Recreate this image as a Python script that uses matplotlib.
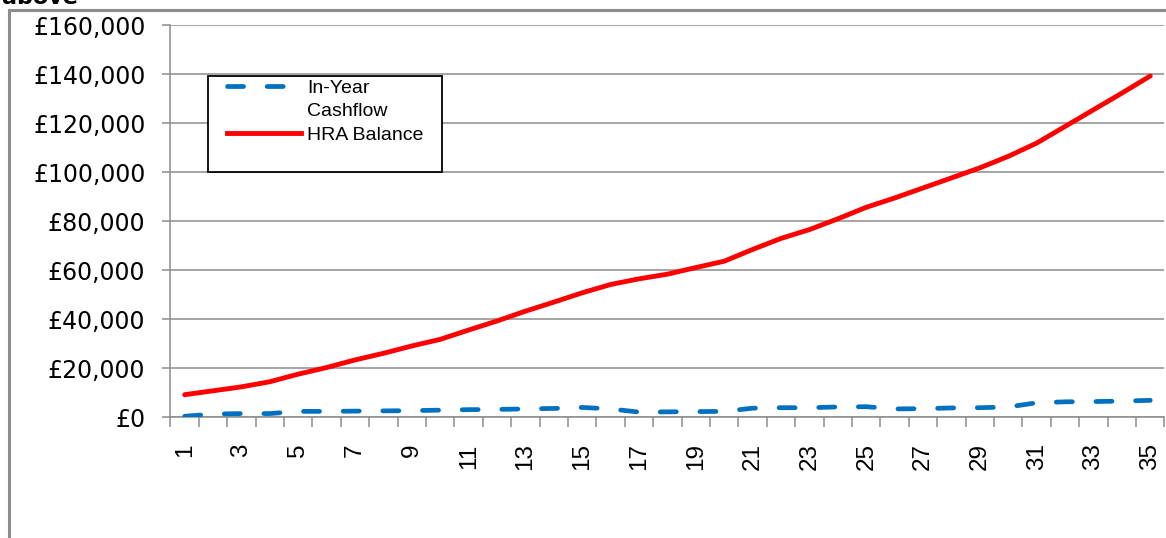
import matplotlib
matplotlib.use('Agg')
import matplotlib.pyplot as plt
from matplotlib.lines import Line2D
from matplotlib.patches import Rectangle
from matplotlib.ticker import FuncFormatter, MultipleLocator

# years 1..35
years = list(range(1, 36))

# values (GBP)
in_year_cashflow = [300, 1200, 1400, 1400, 2300, 2300, 2400, 2500, 2600, 2800,
                    3000, 3100, 3300, 3500, 3900, 3300, 2000, 2100, 2200, 2300,
                    3600, 3800, 3800, 4100, 4200, 3300, 3400, 3700, 3800, 4100,
                    5800, 6200, 6300, 6500, 6800]
hra_balance = [9100, 10700, 12300, 14400, 17500, 20200, 23300, 26000, 29000, 31700,
               35500, 39200, 43200, 46900, 50700, 54100, 56400, 58300, 61000, 63600,
               68400, 72900, 76500, 80900, 85600, 89400, 93500, 97600, 101700, 106400,
               111800, 118600, 125400, 132200, 139200]

blue = '#0070C0'
red = '#FF0000'
grey = '#8C8C8C'

fig = plt.figure(figsize=(11.66, 5.38), dpi=100)
ax = fig.add_axes([0.1462, 0.2249, 0.8525, 0.7286])

# heading of the page, cut off at the top like in the source
fig.text(0.002, 1 - 4 / 538, 'above', fontsize=16, fontweight='bold', va='baseline', ha='left')
# outer chart frame (only left and top edges show)
fig.add_artist(Line2D([0.0077, 0.0077], [0, 0.9815], color=grey, lw=2.2, transform=fig.transFigure))
fig.add_artist(Line2D([0.0077, 1.0], [0.9815, 0.9815], color=grey, lw=2.2, transform=fig.transFigure))

ax.plot(years, hra_balance, color=red, lw=3.5, solid_capstyle='round', zorder=3)
ax.plot(years, in_year_cashflow, color=blue, lw=3.4, dashes=(3.4, 5.0),
        dash_capstyle='round', zorder=3)

ax.set_xlim(0.5, 35.5)
ax.set_ylim(0, 160000)
ax.yaxis.set_major_locator(MultipleLocator(20000))
ax.yaxis.set_major_formatter(FuncFormatter(lambda v, p: '£{:,.0f}'.format(v)))
ax.grid(axis='y', color=grey, lw=1.1)
ax.set_axisbelow(True)

ax.set_xticks(years[::2])
ax.set_xticklabels([str(y) for y in years[::2]], rotation=90, fontsize=17.5,
                   family='Liberation Sans')
ax.set_xticks([y + 0.5 for y in [0] + years], minor=True)
ax.tick_params(axis='x', which='major', length=0, pad=19)
ax.tick_params(axis='x', which='minor', length=7, color=grey, width=1.1)
ax.tick_params(axis='y', length=6, color=grey, width=1.1, pad=12, labelsize=17)

for s in ['top', 'right']:
    ax.spines[s].set_visible(False)
for s in ['left', 'bottom']:
    ax.spines[s].set_color(grey)
    ax.spines[s].set_linewidth(1.1)

# legend: box drawn separately, entries placed inside it
ax.add_patch(Rectangle((0.0377, 0.625), 0.2354, 0.245, transform=ax.transAxes,
                       fill=True, facecolor='white', edgecolor='black', lw=1.3, zorder=4))
handles = [Line2D([], [], color=blue, lw=3.4, dashes=(3.4, 5.0), dash_capstyle='round'),
           Line2D([], [], color='none'),
           Line2D([], [], color=red, lw=3.5)]
leg = ax.legend(handles, ['In-Year', 'Cashflow', 'HRA Balance'], loc='upper left',
                bbox_to_anchor=(0.057, 0.862), frameon=False, handlelength=3.8,
                handletextpad=0.3, labelspacing=0.3, borderpad=0, borderaxespad=0,
                prop={'family': 'Liberation Sans', 'size': 14})
leg.set_zorder(5)

fig.savefig('out.png', dpi=100)
